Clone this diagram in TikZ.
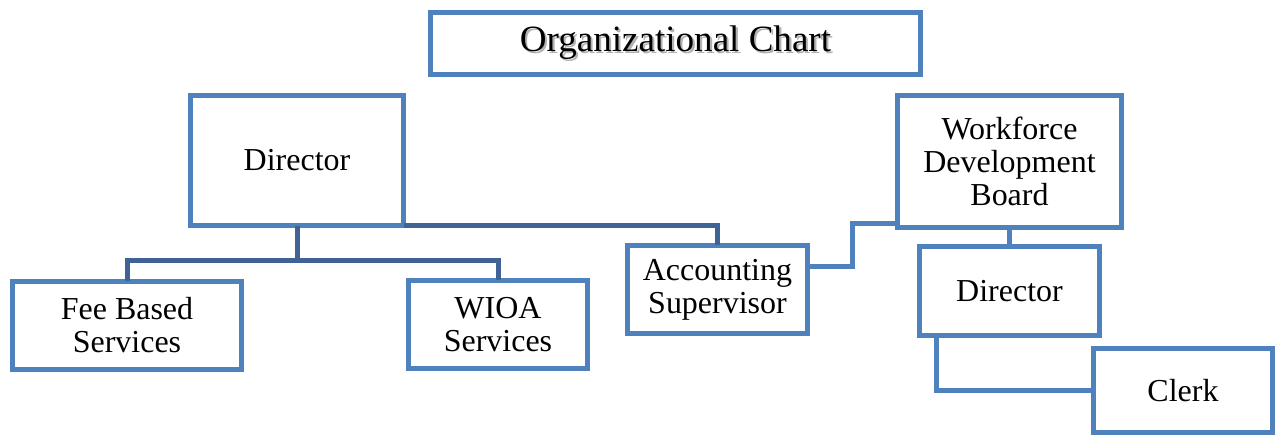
\documentclass[tikz,border=0pt]{standalone}
\usepackage{fontspec}
\setmainfont{Liberation Serif}
\definecolor{boxblue}{RGB}{79,129,189}
\definecolor{darkblue}{RGB}{62,99,148}
\tikzset{
  orgbox/.style={draw=boxblue, line width=0.1cm, fill=white, rectangle, inner sep=0pt, outer sep=0pt, align=center, font=\fontsize{18.2}{18.8}\selectfont},
  darkconn/.style={draw=darkblue, line width=0.1cm},
  lightconn/.style={draw=boxblue, line width=0.1cm},
}
\begin{document}
\begin{tikzpicture}[x=0.02cm, y=-0.02cm]
\useasboundingbox (0,0) rectangle (1276,436);
\coordinate (j1) at (297,260);
\coordinate (a1) at (852,266);
\coordinate (a2) at (852,223);
\coordinate (c1) at (936,390);
% boxes
\node[orgbox, minimum width=9.82cm, minimum height=1.26cm, font=\fontsize{21.1}{22}\selectfont] (title) at (675.5,43.5)
  {\rlap{\kern1.2pt\raisebox{-1.2pt}{\textcolor{black!30}{Organizational Chart}}}Organizational Chart};
\node[orgbox, minimum width=4.28cm, minimum height=2.62cm] (dir1) at (297,160.5) {Director};
\node[orgbox, minimum width=4.60cm, minimum height=1.78cm] (fee) at (127,325.5) {Fee Based\\Services};
\node[orgbox, minimum width=3.60cm, minimum height=1.78cm] (wioa) at (498,324.5) {WIOA\\Services};
\node[orgbox, minimum width=3.62cm, minimum height=1.78cm] (acc) at (717.5,289.5) {Accounting\\Supervisor};
\node[orgbox, minimum width=4.50cm, minimum height=2.66cm] (wdb) at (1009.5,161.5) {Workforce\\Development\\Board};
\node[orgbox, minimum width=3.62cm, minimum height=1.80cm] (dir2) at (1009.5,291) {Director};
\node[orgbox, minimum width=3.60cm, minimum height=1.70cm] (clerk) at (1183,390.5) {Clerk};
% connectors
\draw[darkconn] (dir1.south) -- (j1);
\draw[darkconn] (fee.north) |- (j1) -| (wioa.north);
\draw[darkconn] (dir1.south east) -| (acc.north);
\draw[lightconn] (acc.east |- a1) -- (a1) -- (a2) -- (wdb.west |- a2);
\draw[lightconn] (wdb.south) -- (dir2.north);
\draw[lightconn] (dir2.south -| c1) |- (clerk.west);
\end{tikzpicture}
\end{document}
